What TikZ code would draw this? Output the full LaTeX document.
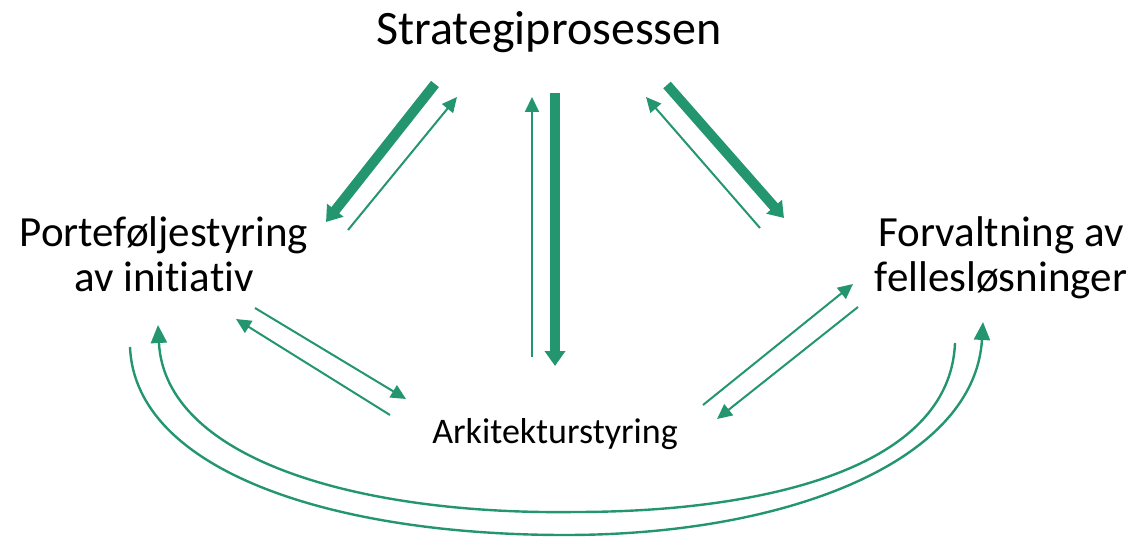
\documentclass[tikz,border=0pt]{standalone}
\usepackage{fontspec}
\setmainfont[Ligatures=NoCommon]{Carlito}
\usetikzlibrary{arrows.meta}
\definecolor{grnn}{RGB}{35,150,112}

\begin{document}
\begin{tikzpicture}[x=1pt, y=-1pt,
    tykk/.style={grnn, line width=10pt, -{Triangle[length=15pt, width=20pt]}},
    tynn/.style={grnn, line width=2pt, -{Triangle[length=15pt, width=14pt]}},
    bue/.style={grnn, line width=2.4pt, -{Triangle[length=18pt, width=16pt]}},
    tekst/.style={inner sep=0pt, align=center, font=\fontsize{43}{45}\selectfont}]
    \useasboundingbox (0,0) rectangle (1146,537);

    % tekstene
    \node[anchor=base, inner sep=0pt, font=\fontsize{48}{56}\selectfont] (strat) at (549,45) {Strategiprosessen};
    \node[tekst, anchor=base] (port) at (164,292) {Porteføljestyring\\av initiativ};
    \node[tekst, anchor=base] (forv) at (1001,292) {Forvaltning av\\fellesløsninger};
    \node[anchor=base, inner sep=0pt, font=\fontsize{36}{40}\selectfont] (ark) at (555,443) {Arkitekturstyring};

    % endepunkter for pilene
    \coordinate (sp1) at (435,84);  \coordinate (ps1) at (326,222);
    \coordinate (ps2) at (348,230); \coordinate (sp2) at (457,97);
    \coordinate (sa1) at (555,93);  \coordinate (as1) at (555,366);
    \coordinate (as2) at (532,357); \coordinate (sa2) at (532,97);
    \coordinate (sf1) at (667,85);  \coordinate (fs1) at (784,218);
    \coordinate (fs2) at (760,228); \coordinate (sf2) at (646,97);
    \coordinate (pa1) at (255,308); \coordinate (ap1) at (406,399);
    \coordinate (ap2) at (390,415); \coordinate (pa2) at (236,319);
    \coordinate (af1) at (703,405); \coordinate (fa1) at (853,284);
    \coordinate (fa2) at (858,307); \coordinate (af2) at (717,419);

    % tykke piler fra strategien
    \foreach \a/\b in {sp1/ps1, sa1/as1, sf1/fs1}
        \draw[tykk] (\a) -- (\b);

    % tynne piler
    \foreach \a/\b in {ps2/sp2, as2/sa2, fs2/sf2, pa1/ap1, ap2/pa2, af1/fa1, fa2/af2}
        \draw[tynn] (\a) -- (\b);

    % buene nederst
    \coordinate (pf1) at (130,347); \coordinate (fp1) at (983,322);
    \coordinate (fp2) at (955,343); \coordinate (pf2) at (158,325);
    \draw[bue] (pf1) .. controls (135,470) and (330,535) .. (565,535)
        .. controls (790,535) and (975,460) .. (fp1);
    \draw[bue] (fp2) .. controls (950,470) and (760,512) .. (575,512)
        .. controls (360,515) and (165,460) .. (pf2);

\end{tikzpicture}
\end{document}
